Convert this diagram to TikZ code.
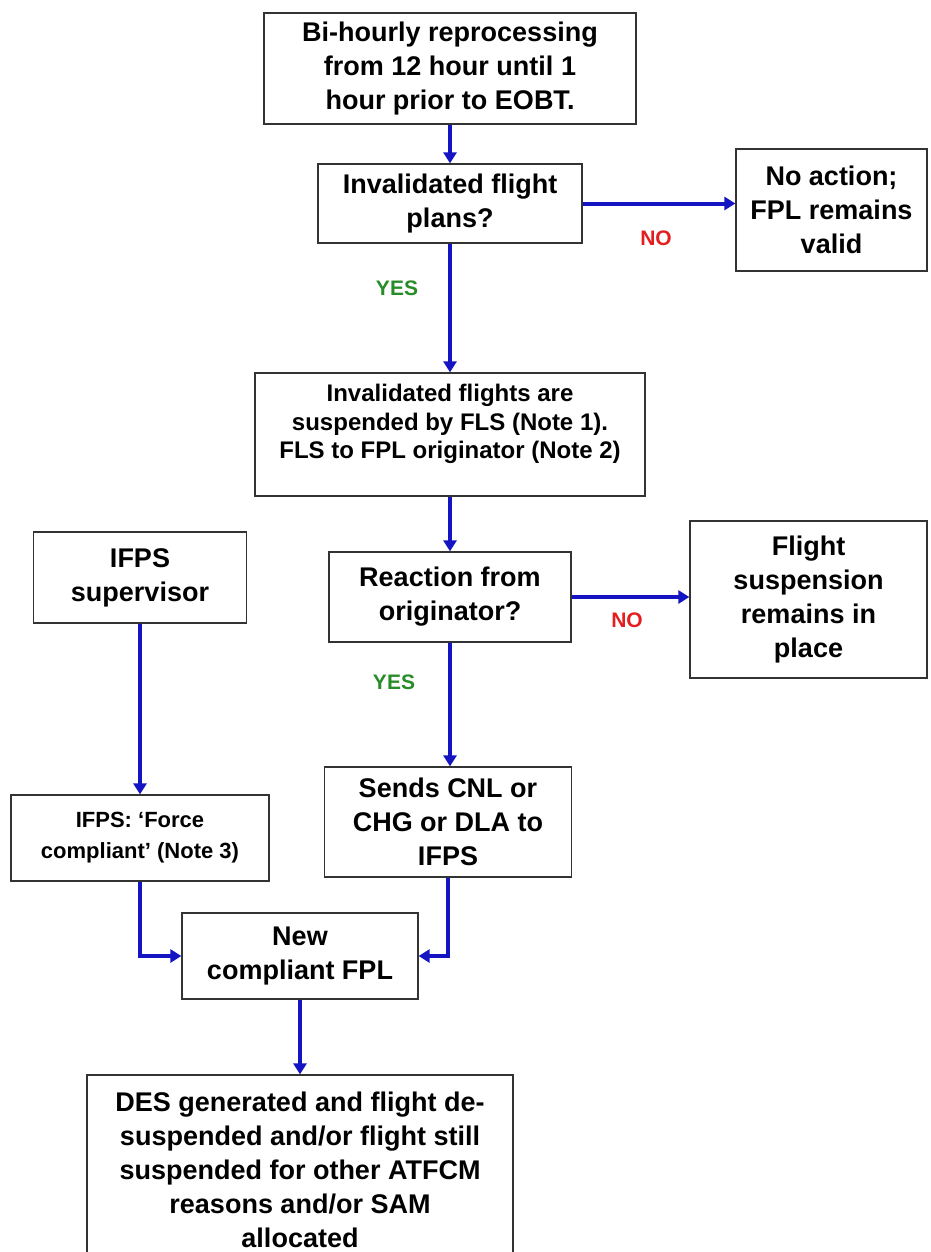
\documentclass[tikz,border=0pt]{standalone}
\usepackage{fontspec}
\setmainfont{Liberation Sans}
\usetikzlibrary{arrows.meta, positioning, calc}
\definecolor{flowblue}{RGB}{20,20,195}
\definecolor{noRed}{RGB}{228,30,30}
\definecolor{yesGreen}{RGB}{40,140,40}

\begin{document}
\begin{tikzpicture}[x=1pt, y=-1pt, >={Triangle[length=11pt,width=13pt]},
  box/.style={draw=black!80, line width=1.3pt, align=center, inner sep=2pt,
    font=\bfseries\fontsize{27}{34}\selectfont},
  flow/.style={->, draw=flowblue, line width=4pt},
  ans/.style={font=\bfseries\fontsize{21}{24}\selectfont}]
  \useasboundingbox (0,0) rectangle (930,1252);

  % main column
  \node[box, minimum width=372, minimum height=111] (top) at (450,68.5)
    {Bi-hourly reprocessing\\from 12 hour until 1\\hour prior to EOBT.};
  \node[box, minimum width=264, minimum height=79] (q1) at (450,203.5)
    {Invalidated flight\\plans?};
  \node[box, minimum width=191, minimum height=122] (noact) at (831.5,210)
    {No action;\\FPL remains\\valid};
  \node[box, minimum width=390, minimum height=123] (susp) at (450,434.5) {};
  \node[align=center, font=\bfseries\fontsize{24}{28.5}\selectfont] (susptxt) at (450,424)
    {Invalidated flights are\\suspended by FLS (Note 1).\\FLS to FPL originator (Note 2)};
  \node[box, minimum width=242, minimum height=90] (q2) at (450,597)
    {Reaction from\\originator?};
  \node[box, minimum width=237, minimum height=157] (remain) at (808.5,599.5)
    {Flight\\suspension\\remains in\\place};
  \node[box, minimum width=247, minimum height=110] (sends) at (448,822)
    {Sends CNL or\\CHG or DLA to\\IFPS};

  % supervisor column
  \node[box, minimum width=213, minimum height=91] (sup) at (140,577.5)
    {IFPS\\supervisor};
  \node[box, minimum width=258, minimum height=86, font=\bfseries\fontsize{22}{31}\selectfont]
    (force) at (140,838) {IFPS: ‘Force\\compliant’ (Note 3)};

  \node[box, minimum width=236, minimum height=86] (newfpl) at (300,956)
    {New\\compliant FPL};
  \node[box, minimum width=426, minimum height=189] (des) at (300,1169.5)
    {DES generated and flight de-\\suspended and/or flight still\\suspended for other ATFCM\\reasons and/or SAM\\allocated};

  \draw[flow] (top) -- (q1); \draw[flow] (q1) -- (susp);
  \draw[flow] (q1.east) -- (q1.east -| noact.west);
  \draw[flow] (susp) -- (q2);
  \draw[flow] (q2.east) -- (q2.east -| remain.west);
  \draw[flow] (q2.south) -- (q2.south |- sends.north);
  \draw[flow] (sup) -- (force);
  \draw[flow] (force.south) |- (newfpl.west);
  \draw[flow] (sends.south) |- (newfpl.east);
  \draw[flow] (newfpl) -- (des);

  \node[ans, text=noRed] (no1) at (656,238) {NO};
  \node[ans, text=yesGreen] (yes1) at (397,288) {YES};
  \node[ans, text=noRed] (no2) at (627,620) {NO};
  \node[ans, text=yesGreen] (yes2) at (394,682) {YES};
\end{tikzpicture}
\end{document}
